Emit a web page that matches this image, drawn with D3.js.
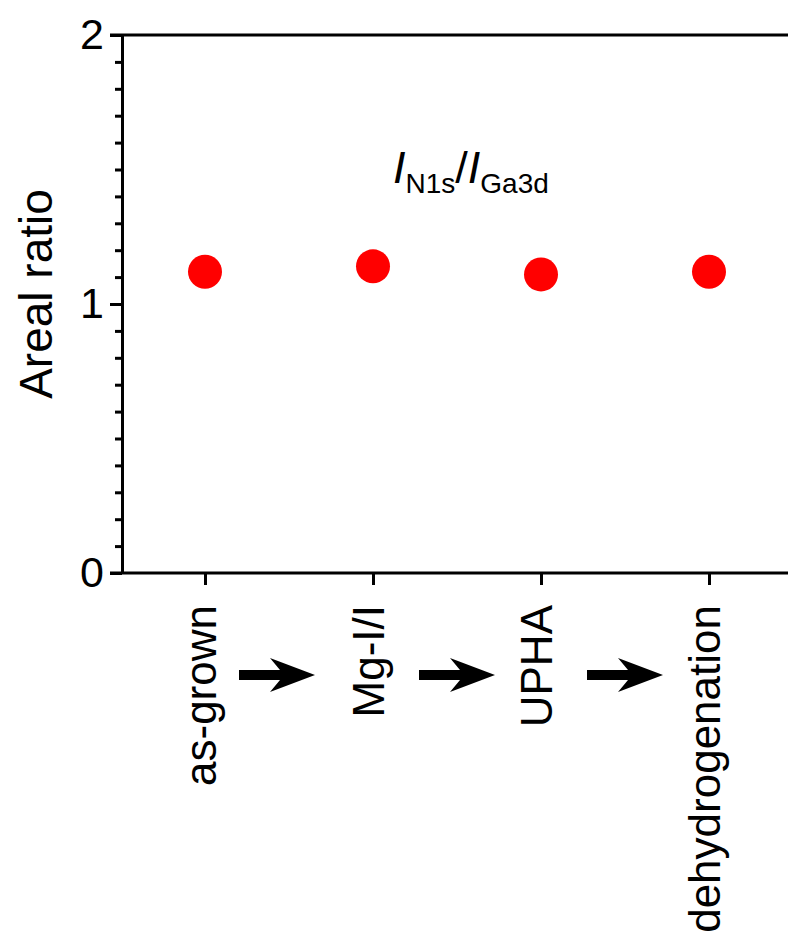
<!DOCTYPE html>
<html>
<head>
<meta charset="utf-8">
<script src="https://cdn.jsdelivr.net/npm/d3@7"></script>
<style>
  html, body { margin: 0; padding: 0; background: #fff; }
  svg { display: block; font-family: "Liberation Sans", Arial, Helvetica, sans-serif; }
</style>
</head>
<body>
<svg id="chart" width="788" height="945"></svg>
<script>
// Process steps along the x axis and the measured N1s / Ga3d areal ratio
const steps = ["as-grown", "Mg-I/I", "UPHA", "dehydrogenation"];
const ratios = [1.12, 1.14, 1.11, 1.12];
const majorTicks = [0, 1, 2];
const minorTicks = d3.range(0, 21).map(d => d / 10).filter(d => !majorTicks.includes(d));

const svg = d3.select("#chart");
const plotLeft = 122, plotRight = 793, plotTop = 35, plotBottom = 573;
const ink = "#000";

const x = d3.scalePoint().domain(steps).range([plotLeft - 1, plotRight]).padding(0.5);
const y = d3.scaleLinear().domain([0, 2]).range([plotBottom, plotTop]);

// minor y ticks
const minorAxis = svg.append("g")
  .attr("transform", `translate(${plotLeft},0)`)
  .call(d3.axisLeft(y).tickValues(minorTicks).tickSize(7).tickSizeOuter(0).tickFormat(""));
minorAxis.select(".domain").remove();
minorAxis.selectAll("line").attr("stroke", ink).attr("stroke-width", 3);

// major y ticks with labels
const yAxis = svg.append("g")
  .attr("transform", `translate(${plotLeft},0)`)
  .call(d3.axisLeft(y).tickValues(majorTicks).tickSize(12).tickSizeOuter(0).tickPadding(6).tickFormat(d3.format("d")));
yAxis.select(".domain").attr("stroke", ink).attr("stroke-width", 3);
yAxis.selectAll("line").attr("stroke", ink).attr("stroke-width", 3);
yAxis.selectAll("text").attr("font-size", 43).attr("fill", ink)
  .attr("font-family", "Liberation Sans, Arial, sans-serif");

// x axis ticks (labels are drawn rotated below)
const xAxis = svg.append("g")
  .attr("transform", `translate(0,${plotBottom})`)
  .call(d3.axisBottom(x).tickSize(12).tickSizeOuter(0).tickFormat(""));
xAxis.select(".domain").remove();
xAxis.selectAll("line").attr("stroke", ink).attr("stroke-width", 3);

// bottom axis line and top frame line
[plotBottom, plotTop].forEach(yy => {
  svg.append("line")
    .attr("x1", plotLeft - 12).attr("x2", plotRight)
    .attr("y1", yy).attr("y2", yy)
    .attr("stroke", ink).attr("stroke-width", 3);
});

// rotated category labels
svg.append("g").selectAll("text")
  .data(steps)
  .join("text")
  .attr("transform", d => `translate(${x(d) + 11},605) rotate(-90)`)
  .attr("text-anchor", "end")
  .attr("font-size", 44)
  .attr("fill", ink)
  .text(d => d);

// arrows between consecutive steps
const arrowPath = "M-38,-5 L3,-5 L-7,-17 L38,0 L-7,17 L3,5 L-38,5 Z";
svg.append("g").selectAll("path")
  .data(d3.pairs(steps))
  .join("path")
  .attr("transform", (p, i) => `translate(${(x(p[0]) + x(p[1])) / 2 + (i === 0 ? -12 : 0)},675)`)
  .attr("d", arrowPath)
  .attr("fill", ink);

// y axis title
svg.append("text")
  .attr("transform", "translate(52,294) rotate(-90)")
  .attr("text-anchor", "middle")
  .attr("font-size", 46)
  .attr("fill", ink)
  .text("Areal ratio");

// ratio label
const title = svg.append("text")
  .attr("x", 393).attr("y", 183)
  .attr("font-size", 45)
  .attr("fill", ink);
title.append("tspan").attr("font-style", "italic").text("I");
title.append("tspan").attr("font-size", 28).attr("dy", 10).text("N1s");
title.append("tspan").attr("dy", -10).text("/");
title.append("tspan").attr("font-style", "italic").text("I");
title.append("tspan").attr("font-size", 28).attr("dy", 10).text("Ga3d");

// data points
svg.append("g").selectAll("circle")
  .data(steps.map((s, i) => ({ step: s, value: ratios[i] })))
  .join("circle")
  .attr("cx", d => x(d.step))
  .attr("cy", d => y(d.value))
  .attr("r", 17)
  .attr("fill", "#ff0000");
</script>
</body>
</html>
